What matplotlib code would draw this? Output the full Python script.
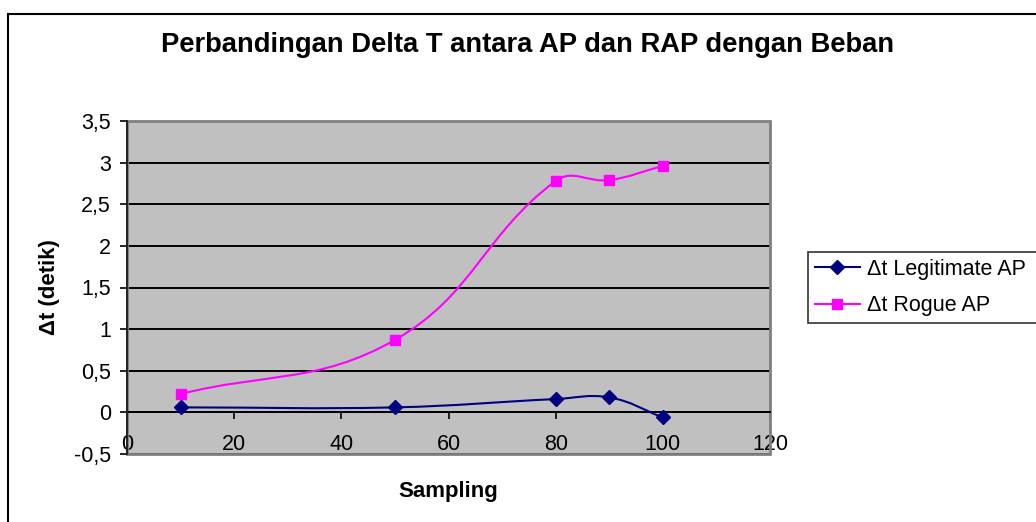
import matplotlib
matplotlib.use('Agg')
import matplotlib.pyplot as plt
import numpy as np
from matplotlib.path import Path
from matplotlib.patches import PathPatch, Rectangle
from matplotlib.lines import Line2D

plt.rcParams['font.family'] = ['Liberation Sans', 'DejaVu Sans']

# data
sampling = [10, 50, 80, 90, 100]
dt_legit = [0.06, 0.06, 0.16, 0.18, -0.06]
dt_rogue = [0.22, 0.87, 2.78, 2.79, 2.96]

x_ticks = [0, 20, 40, 60, 80, 100, 120]
y_ticks = [-0.5, 0, 0.5, 1, 1.5, 2, 2.5, 3, 3.5]
y_tick_labels = ['-0,5', '0', '0,5', '1', '1,5', '2', '2,5', '3', '3,5']

W, H = 1036, 522


def smoothPath(ax, xs, ys, k=0.4):
	# bezier through every point; tangent from the neighbours, handle length
	# proportional to the segment length (worked out in screen space)
	pts = ax.transData.transform(np.column_stack([xs, ys]))
	n = len(pts)
	verts = [pts[0]]
	codes = [Path.MOVETO]
	for i in range(n - 1):
		p0 = pts[i - 1] if i > 0 else pts[i]
		p1 = pts[i]
		p2 = pts[i + 1]
		p3 = pts[i + 2] if i + 2 < n else pts[i + 1]
		chord = np.hypot(*(p2 - p1))
		t1 = p2 - p0
		t2 = p3 - p1
		c1 = p1 + t1 / np.hypot(*t1) * chord * k
		c2 = p2 - t2 / np.hypot(*t2) * chord * k
		verts += [c1, c2, p2]
		codes += [Path.CURVE4] * 3
	verts = ax.transData.inverted().transform(np.array(verts))
	return Path(verts, codes)


fig = plt.figure(figsize=(W / 100.0, H / 100.0), dpi=100)
fig.patch.set_facecolor('white')

# chart frame
fig.patches.append(Rectangle((8.0 / W, -0.1), 1.2, 1.1 - 14.0 / H, transform=fig.transFigure,
	fill=False, edgecolor='black', linewidth=1.5))

ax = fig.add_axes([127.0 / W, 1 - 454.0 / H, 643.0 / W, 333.0 / H])
ax.set_facecolor('#c0c0c0')
ax.set_xlim(0, 120)
ax.set_ylim(-0.5, 3.5)

ax.set_yticks(y_ticks)
ax.set_yticklabels(y_tick_labels)
ax.set_xticks(x_ticks)
ax.set_xticklabels([str(v) for v in x_ticks])
ax.yaxis.grid(True, color='black', linewidth=1.4)
ax.set_axisbelow(True)

for s in ['top', 'right']:
	ax.spines[s].set_visible(False)
ax.add_patch(Rectangle((0, 0), 1, 1, transform=ax.transAxes, fill=False,
	edgecolor='#808080', linewidth=2, clip_on=False, zorder=1))
ax.spines['bottom'].set_position(('data', 0))
ax.spines['bottom'].set_linewidth(1.4)
ax.spines['left'].set_linewidth(1.4)
ax.spines['left'].set_color('#222222')
ax.spines['left'].set_zorder(3)

ax.tick_params(axis='both', direction='out', length=5, width=1.2, labelsize=15.5)
ax.tick_params(axis='x', pad=10.5)
ax.tick_params(axis='y', pad=6.5)

series = [
	(dt_legit, '#000080', 'D', 7, u'\u0394t Legitimate AP'),
	(dt_rogue, '#ff00ff', 's', 7.5, u'\u0394t Rogue AP'),
]
handles = []
for vals, col, mk, ms, label in series:
	ax.add_patch(PathPatch(smoothPath(ax, sampling, vals), facecolor='none', edgecolor=col,
		linewidth=1.5, zorder=4))
	ax.plot(sampling, vals, linestyle='none', marker=mk, markersize=ms, color=col, zorder=5)
	handles.append(Line2D([], [], color=col, linewidth=1.5, marker=mk, markersize=ms, label=label))

# legend box runs off the right edge
leg = fig.legend(handles=handles, loc='upper left', mode='expand',
	bbox_to_anchor=(808.0 / W, 1 - 252.0 / H, 260.0 / W, 0),
	borderaxespad=0, fontsize=15.5, handlelength=2.1, handletextpad=0.3, labelspacing=0.72,
	borderpad=0.32, fancybox=False, frameon=True)
leg.get_frame().set_edgecolor('black')
leg.get_frame().set_linewidth(1.2)

fig.text(528.0 / W, 1 - 45.0 / H, 'Perbandingan Delta T antara AP dan RAP dengan Beban',
	ha='center', va='center', fontsize=19.7, fontweight='bold')
fig.text(448.0 / W, 1 - 492.0 / H, 'Sampling', ha='center', va='center', fontsize=16, fontweight='bold')
fig.text(50.0 / W, 1 - 287.0 / H, u'\u0394t (detik)', ha='center', va='center', rotation=90,
	fontsize=16, fontweight='bold')

fig.savefig('out.png', dpi=100)
